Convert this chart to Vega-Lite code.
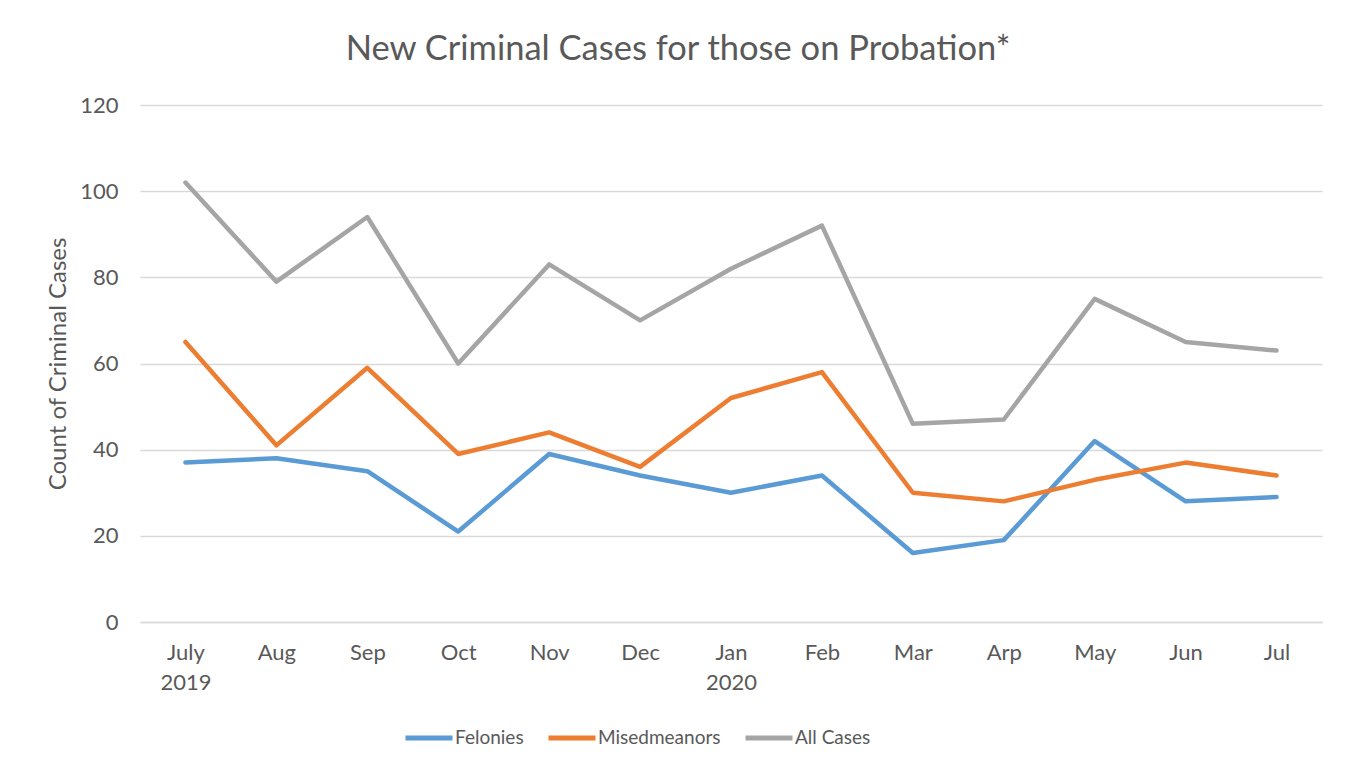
{
  "$schema": "https://vega.github.io/schema/vega-lite/v6.json",
  "width": 1182,
  "height": 517,
  "autosize": {"type": "none"},
  "padding": {"left": 140, "top": 105, "right": 31, "bottom": 147},
  "background": "white",
  "title": {
    "text": "New Criminal Cases for those on Probation*",
    "font": "Lato",
    "fontSize": 34.5,
    "fontWeight": "normal",
    "color": "#595959",
    "anchor": "middle",
    "dx": -53,
    "offset": 27
  },
  "data": {
    "values": [
      {"month": "July 2019", "series": "Felonies", "count": 37},
      {"month": "Aug", "series": "Felonies", "count": 38},
      {"month": "Sep", "series": "Felonies", "count": 35},
      {"month": "Oct", "series": "Felonies", "count": 21},
      {"month": "Nov", "series": "Felonies", "count": 39},
      {"month": "Dec", "series": "Felonies", "count": 34},
      {"month": "Jan 2020", "series": "Felonies", "count": 30},
      {"month": "Feb", "series": "Felonies", "count": 34},
      {"month": "Mar", "series": "Felonies", "count": 16},
      {"month": "Arp", "series": "Felonies", "count": 19},
      {"month": "May", "series": "Felonies", "count": 42},
      {"month": "Jun", "series": "Felonies", "count": 28},
      {"month": "Jul", "series": "Felonies", "count": 29},
      {"month": "July 2019", "series": "Misedmeanors", "count": 65},
      {"month": "Aug", "series": "Misedmeanors", "count": 41},
      {"month": "Sep", "series": "Misedmeanors", "count": 59},
      {"month": "Oct", "series": "Misedmeanors", "count": 39},
      {"month": "Nov", "series": "Misedmeanors", "count": 44},
      {"month": "Dec", "series": "Misedmeanors", "count": 36},
      {"month": "Jan 2020", "series": "Misedmeanors", "count": 52},
      {"month": "Feb", "series": "Misedmeanors", "count": 58},
      {"month": "Mar", "series": "Misedmeanors", "count": 30},
      {"month": "Arp", "series": "Misedmeanors", "count": 28},
      {"month": "May", "series": "Misedmeanors", "count": 33},
      {"month": "Jun", "series": "Misedmeanors", "count": 37},
      {"month": "Jul", "series": "Misedmeanors", "count": 34},
      {"month": "July 2019", "series": "All Cases", "count": 102},
      {"month": "Aug", "series": "All Cases", "count": 79},
      {"month": "Sep", "series": "All Cases", "count": 94},
      {"month": "Oct", "series": "All Cases", "count": 60},
      {"month": "Nov", "series": "All Cases", "count": 83},
      {"month": "Dec", "series": "All Cases", "count": 70},
      {"month": "Jan 2020", "series": "All Cases", "count": 82},
      {"month": "Feb", "series": "All Cases", "count": 92},
      {"month": "Mar", "series": "All Cases", "count": 46},
      {"month": "Arp", "series": "All Cases", "count": 47},
      {"month": "May", "series": "All Cases", "count": 75},
      {"month": "Jun", "series": "All Cases", "count": 65},
      {"month": "Jul", "series": "All Cases", "count": 63}
    ]
  },
  "mark": {"type": "line", "strokeWidth": 4.5, "strokeCap": "round", "strokeJoin": "round"},
  "encoding": {
    "x": {
      "field": "month",
      "type": "nominal",
      "sort": ["July 2019", "Aug", "Sep", "Oct", "Nov", "Dec", "Jan 2020", "Feb", "Mar", "Arp", "May", "Jun", "Jul"],
      "scale": {"type": "point", "padding": 0.5},
      "axis": {
        "title": null,
        "labelAngle": 0,
        "labelExpr": "split(datum.value, ' ')",
        "labelLineHeight": 30,
        "labelPadding": 20,
        "labelBaseline": "top",
        "ticks": false,
        "domain": true,
        "domainColor": "#D9D9D9",
        "domainWidth": 1.5,
        "grid": false
      }
    },
    "y": {
      "field": "count",
      "type": "quantitative",
      "scale": {"domain": [0, 120], "nice": false},
      "axis": {
        "title": "Count of Criminal Cases",
        "titleFontSize": 24,
        "titleFontWeight": "normal",
        "titleColor": "#595959",
        "titleFont": "Lato",
        "titlePadding": 9,
        "values": [0, 20, 40, 60, 80, 100, 120],
        "ticks": false,
        "domain": false,
        "labelPadding": 22,
        "grid": true,
        "gridColor": "#D9D9D9",
        "gridWidth": 1.5
      }
    },
    "color": {
      "field": "series",
      "type": "nominal",
      "sort": ["Felonies", "Misedmeanors", "All Cases"],
      "scale": {"domain": ["Felonies", "Misedmeanors", "All Cases"], "range": ["#5B9BD5", "#ED7D31", "#A5A5A5"]},
      "legend": {
        "title": null,
        "orient": "none",
        "legendX": 263,
        "legendY": 607,
        "direction": "horizontal",
        "symbolType": "stroke",
        "symbolStrokeWidth": 5,
        "symbolSize": 2209,
        "labelFontSize": 19,
        "labelColor": "#595959",
        "labelFont": "Lato",
        "labelOffset": 0,
        "columnPadding": 14
      }
    }
  },
  "config": {
    "view": {"stroke": null},
    "axis": {
      "labelFont": "Lato",
      "labelFontSize": 22,
      "labelColor": "#595959"
    }
  }
}
